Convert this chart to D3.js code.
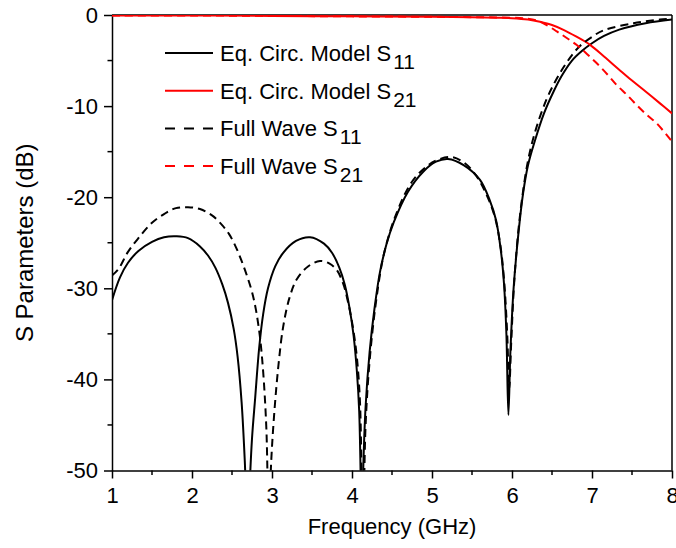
<!DOCTYPE html>
<html>
<head>
<meta charset="utf-8">
<script src="https://cdn.jsdelivr.net/npm/d3@7"></script>
<style>
  body { margin: 0; background: #fff; }
  svg { display: block; font-family: "Liberation Sans", Arial, sans-serif; }
</style>
</head>
<body>
<div class="svg-wrapper"></div>
<script>
// frequency (GHz) / dB pairs
const eqS11 = [[1,-31.3],[1.1,-28.8],[1.2,-27.2],[1.33,-25.9],[1.5,-24.9],[1.65,-24.4],[1.81,-24.3],[1.95,-24.5],
  [2.1,-25.4],[2.2,-26.4],[2.29,-27.7],[2.38,-29.6],[2.45,-31.6],[2.52,-34.4],[2.57,-37.5],[2.62,-42.5],
  [2.66,-49],[2.7,-58],[2.72,-52],[2.75,-46.5],[2.79,-42],[2.84,-36.5],[2.89,-32.8],[2.95,-30],
  [3.04,-27.6],[3.14,-26.1],[3.3,-24.8],[3.475,-24.4],[3.65,-25.1],[3.75,-26.1],[3.84,-27.7],
  [3.91,-29.6],[3.97,-32.2],[4.02,-35.2],[4.06,-39],[4.09,-43.5],[4.125,-57],
  [4.14,-50],[4.17,-43],[4.22,-37],[4.28,-32.3],[4.35,-28.2],[4.43,-25.2],[4.52,-22.8],[4.7,-19.4],
  [4.89,-17.2],[5.05,-16.1],[5.2,-15.8],[5.4,-16.5],[5.6,-18.1],[5.72,-20.3],[5.8,-22.5],[5.86,-25.8],
  [5.9,-29.5],[5.93,-35],[5.955,-43.9],[5.98,-37],[6.02,-30],[6.08,-24],[6.14,-19.5],[6.2,-16.5],
  [6.29,-13.7],[6.4,-10.8],[6.52,-8.4],[6.62,-6.7],[6.75,-5.0],[6.88,-3.9],[7.0,-3.1],[7.15,-2.3],
  [7.34,-1.6],[7.67,-0.9],[8,-0.5]];

const eqS21 = [[1,-0.05],[2,-0.05],[3,-0.1],[4,-0.15],[5,-0.2],[5.5,-0.25],[5.8,-0.3],[6.0,-0.35],
  [6.2,-0.5],[6.35,-0.75],[6.5,-1.1],[6.65,-1.65],[6.8,-2.35],[6.98,-3.3],[7.15,-4.55],[7.34,-6.0],
  [7.5,-7.2],[7.67,-8.4],[7.85,-9.7],[8,-10.8]];

const fwS11 = [[1,-28.6],[1.08,-27.9],[1.2,-26],[1.33,-24.5],[1.5,-22.8],[1.66,-21.8],[1.8,-21.2],[1.95,-21.1],
  [2.1,-21.3],[2.25,-22],[2.36,-22.9],[2.46,-24],[2.55,-25.5],[2.62,-27],[2.69,-28.7],[2.75,-30.4],
  [2.8,-32.4],[2.85,-35.4],[2.89,-39.2],[2.93,-45.5],[2.96,-56],[2.99,-49],[3.03,-43.5],[3.08,-38.5],
  [3.14,-34.2],[3.22,-31],[3.31,-29],[3.45,-27.6],[3.6,-27],[3.72,-27.3],[3.81,-28],[3.89,-29.5],
  [3.95,-31.5],[4.01,-34.2],[4.06,-37.5],[4.1,-42.5],[4.135,-57],[4.17,-45],[4.22,-38],[4.3,-31.5],
  [4.4,-26.2],[4.55,-21.9],[4.75,-18.3],[4.95,-16.5],[5.1,-15.8],[5.25,-15.6],[5.4,-16.2],[5.55,-17.6],
  [5.67,-19.5],[5.78,-22],[5.85,-25],[5.9,-29],[5.94,-35],[5.965,-41],[5.99,-36],[6.03,-29],[6.1,-22],
  [6.2,-16],[6.3,-12.5],[6.43,-9.3],[6.54,-7.3],[6.64,-5.8],[6.75,-4.4],[6.85,-3.4],[7.0,-2.4],
  [7.14,-1.7],[7.52,-0.9],[7.85,-0.5],[8,-0.4]];

const fwS21 = [[1,-0.05],[2,-0.05],[3,-0.1],[4,-0.15],[5,-0.2],[5.6,-0.25],[6,-0.3],[6.2,-0.4],
  [6.31,-0.6],[6.45,-1.2],[6.56,-1.8],[6.68,-2.5],[6.81,-3.3],[6.94,-4.3],[7.06,-5.3],[7.19,-6.5],
  [7.31,-7.7],[7.44,-8.8],[7.56,-9.9],[7.69,-11.0],[7.81,-11.9],[8,-13.9]];

const xTicks = [1, 2, 3, 4, 5, 6, 7, 8];
const yTicks = [0, -10, -20, -30, -40, -50];

const series = [
  {name: "Eq. Circ. Model S", sub: "11", data: eqS11, color: "#000", dash: null},
  {name: "Eq. Circ. Model S", sub: "21", data: eqS21, color: "#f00", dash: null},
  {name: "Full Wave S", sub: "11", data: fwS11, color: "#000", dash: "8,5"},
  {name: "Full Wave S", sub: "21", data: fwS21, color: "#f00", dash: "8,5"}
];

const W = 676, H = 548;
const margin = {top: 15, right: 4, bottom: 77.5, left: 112};
const width = W - margin.left - margin.right;
const height = H - margin.top - margin.bottom;

const svg = d3.select(".svg-wrapper").append("svg")
  .attr("width", W)
  .attr("height", H);

const g = svg.append("g")
  .attr("transform", `translate(${margin.left},${margin.top})`);

const x = d3.scaleLinear().domain([1, 8]).range([0, width]);
const y = d3.scaleLinear().domain([-50, 0]).range([height, 0]);

g.append("clipPath").attr("id", "clip")
  .append("rect").attr("width", width).attr("height", height);

// minor ticks
const xMinor = d3.range(1.5, 8, 1);
const yMinor = d3.range(-45, 0, 10);

g.selectAll(".xminor").data(xMinor).enter().append("line")
  .attr("x1", d => x(d)).attr("x2", d => x(d))
  .attr("y1", height).attr("y2", height + 4.5)
  .attr("stroke", "#000").attr("stroke-width", 1.5);
g.selectAll(".yminor").data(yMinor).enter().append("line")
  .attr("x1", -4.5).attr("x2", 0)
  .attr("y1", d => y(d)).attr("y2", d => y(d))
  .attr("stroke", "#000").attr("stroke-width", 1.5);

const xAxis = g.append("g")
  .attr("transform", `translate(0,${height})`)
  .call(d3.axisBottom(x).tickValues(xTicks).tickSize(8).tickSizeOuter(0).tickPadding(9)
    .tickFormat(d3.format("d")));
const yAxis = g.append("g")
  .call(d3.axisLeft(y).tickValues(yTicks).tickSize(8).tickSizeOuter(0).tickPadding(6)
    .tickFormat(d => d === 0 ? "0" : String(d)));

[xAxis, yAxis].forEach(a => {
  a.select(".domain").attr("stroke-width", 1.5);
  a.selectAll(".tick line").attr("stroke-width", 1.5);
  a.selectAll("text").attr("font-size", 22).attr("fill", "#000")
    .attr("font-family", "Liberation Sans, Arial, sans-serif");
});

// frame top / right
g.append("line").attr("x1", 0).attr("x2", width).attr("y1", 0).attr("y2", 0)
  .attr("stroke", "#000").attr("stroke-width", 1.5);
g.append("line").attr("x1", width).attr("x2", width).attr("y1", 0).attr("y2", height)
  .attr("stroke", "#000").attr("stroke-width", 1.5);

const line = d3.line()
  .x(d => x(d[0]))
  .y(d => y(d[1]))
  .curve(d3.curveCatmullRom.alpha(0.5));

g.append("g").attr("clip-path", "url(#clip)")
  .selectAll("path").data(series).enter().append("path")
  .attr("d", d => line(d.data))
  .attr("fill", "none")
  .attr("stroke", d => d.color)
  .attr("stroke-width", 2)
  .attr("stroke-dasharray", d => d.dash);

// legend
const legend = svg.append("g").attr("transform", "translate(165,53)");
const rows = legend.selectAll("g").data(series).enter().append("g")
  .attr("transform", (d, i) => `translate(0,${i * 37.7})`);
rows.append("line")
  .attr("x1", 0).attr("x2", 48).attr("y1", 0).attr("y2", 0)
  .attr("stroke", d => d.color).attr("stroke-width", 2)
  .attr("stroke-dasharray", d => d.dash ? "10,9" : null);
const txt = rows.append("text")
  .attr("x", 55).attr("y", 8)
  .attr("font-size", 22).attr("fill", "#000");
txt.append("tspan").text(d => d.name);
txt.append("tspan").attr("dx", 2).attr("dy", 8).attr("font-size", 21).text(d => d.sub);

// axis titles
svg.append("text")
  .attr("x", margin.left + width / 2).attr("y", 534)
  .attr("text-anchor", "middle").attr("font-size", 22)
  .text("Frequency (GHz)");
svg.append("text")
  .attr("transform", `translate(33,${margin.top + height / 2}) rotate(-90)`)
  .attr("text-anchor", "middle").attr("font-size", 24)
  .text("S Parameters (dB)");
</script>
</body>
</html>
